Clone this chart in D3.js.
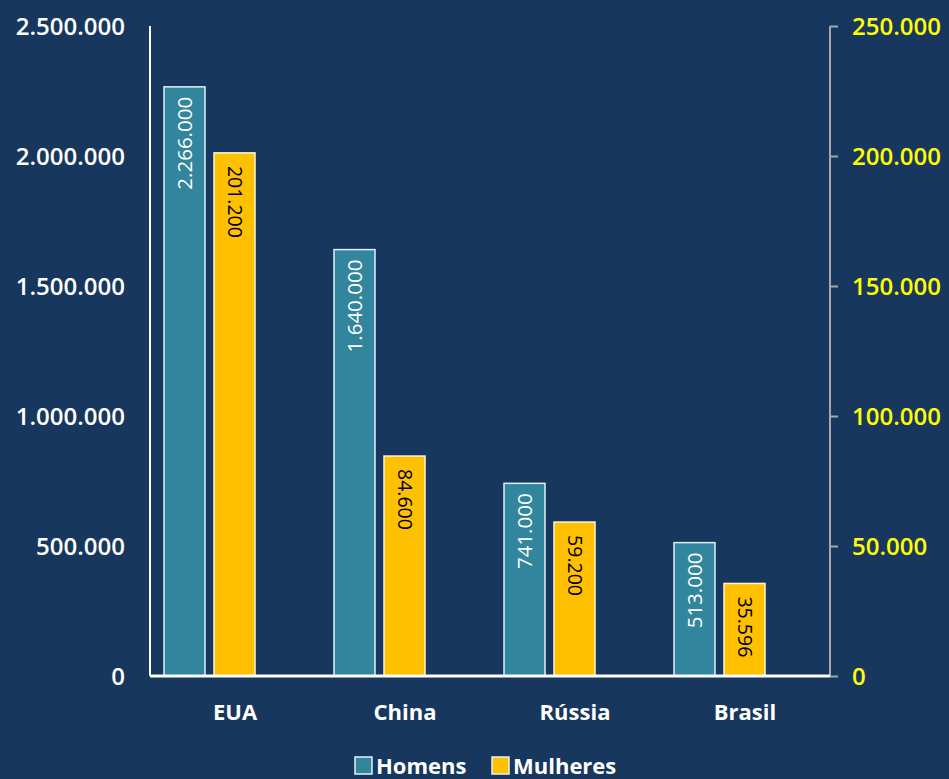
<!DOCTYPE html>
<html><head><meta charset="utf-8">
<script src="https://cdn.jsdelivr.net/npm/d3@7"></script>
<style>html,body{margin:0;padding:0;background:#17375e;}svg{display:block;}</style>
</head><body>
<svg id="c" width="949" height="779"></svg>
<script>
const categories = ["EUA", "China", "Rússia", "Brasil"];
const homens = [2266000, 1640000, 741000, 513000];
const mulheres = [201200, 84600, 59200, 35596];
const leftTicks = [0, 500000, 1000000, 1500000, 2000000, 2500000];
const rightTicks = [0, 50000, 100000, 150000, 200000, 250000];
const seriesNames = ["Homens", "Mulheres"];

const fmt = v => d3.format(",")(v).replace(/,/g, ".");
const fmtLabel = v => d3.format(",")(v).replace(/,/g, ".");
const FONT = "'Open Sans', 'DejaVu Sans', sans-serif";
const TEAL = "#31859c", GOLD = "#ffc000", BG = "#17375e";

const svg = d3.select("#c");
svg.append("rect").attr("width", 949).attr("height", 779).attr("fill", BG);

const L = 150, R = 830, T = 26, B = 676;
const x = d3.scaleBand().domain(categories).range([L, R]).padding(0);
const yL = d3.scaleLinear().domain([0, 2500000]).range([B, T]);
const yR = d3.scaleLinear().domain([0, 250000]).range([B, T]);

const bw = 41;
const offH = 14, offM = 64;

// Right axis (gray)
const gR = svg.append("g").attr("transform", `translate(${R},0)`)
  .call(d3.axisRight(yR).tickValues(rightTicks).tickSize(8).tickFormat(fmt));
gR.select(".domain").attr("stroke", "#a6a6a6").attr("stroke-width", 2).attr("d", `M0,${T}V${B}`);
gR.selectAll(".tick line").attr("stroke", "#a6a6a6").attr("stroke-width", 2);
gR.selectAll(".tick text").attr("x", 22).attr("fill", "#ffff00")
  .style("font-family", FONT).style("font-size", "24px").style("font-weight", "600")
  .attr("dy", "0.35em");

// Bars
const data = categories.map((c, i) => ({c, h: homens[i], m: mulheres[i]}));
const gb = svg.append("g");
gb.selectAll("rect.h").data(data).join("rect").attr("class", "h")
  .attr("x", d => x(d.c) + offH).attr("width", bw)
  .attr("y", d => yL(d.h)).attr("height", d => B - yL(d.h))
  .attr("fill", TEAL).attr("stroke", "#dff0f5").attr("stroke-width", 1.5);
gb.selectAll("rect.m").data(data).join("rect").attr("class", "m")
  .attr("x", d => x(d.c) + offM).attr("width", bw)
  .attr("y", d => yR(d.m)).attr("height", d => B - yR(d.m))
  .attr("fill", GOLD).attr("stroke", "#fff6d8").attr("stroke-width", 1.5);

// Bar labels
gb.selectAll("text.h").data(data).join("text").attr("class", "h")
  .attr("transform", d => `translate(${x(d.c) + offH + bw / 2},${yL(d.h) + 10}) rotate(-90)`)
  .attr("text-anchor", "end").attr("dy", "0.35em")
  .attr("fill", "#ffffff").style("font-family", FONT).style("font-size", "20.5px").style("font-weight", "500")
  .text(d => fmtLabel(d.h));
gb.selectAll("text.m").data(data).join("text").attr("class", "m")
  .attr("transform", d => `translate(${x(d.c) + offM + bw / 2},${yR(d.m) + 13}) rotate(90)`)
  .attr("text-anchor", "start").attr("dy", "0.35em")
  .attr("fill", "#000000").style("font-family", FONT).style("font-size", "19.5px").style("font-weight", "500")
  .text(d => fmtLabel(d.m));

// Left axis (white, no ticks)
const gL = svg.append("g").attr("transform", `translate(${L},0)`)
  .call(d3.axisLeft(yL).tickValues(leftTicks).tickSize(0).tickFormat(fmt));
gL.select(".domain").attr("stroke", "#ffffff").attr("stroke-width", 2).attr("d", `M0,${T}V${B}`);
gL.selectAll(".tick text").attr("x", -25).attr("fill", "#ffffff")
  .style("font-family", FONT).style("font-size", "24px").style("font-weight", "600")
  .attr("dy", "0.35em");

// Bottom axis
const gX = svg.append("g").attr("transform", `translate(0,${B})`)
  .call(d3.axisBottom(x).tickSize(0));
gX.select(".domain").attr("stroke", "#ffffff").attr("stroke-width", 3).attr("d", `M${L},0H${R}`);
gX.selectAll(".tick text").attr("y", 28).attr("fill", "#ffffff")
  .style("font-family", FONT).style("font-size", "22px").style("font-weight", "bold");

// Legend
const legend = [{n: seriesNames[0], c: TEAL, x: 355}, {n: seriesNames[1], c: GOLD, x: 492}];
const lg = svg.append("g");
lg.selectAll("rect").data(legend).join("rect")
  .attr("x", d => d.x).attr("y", 757).attr("width", 17).attr("height", 17)
  .attr("fill", d => d.c).attr("stroke", "#e6f2f5").attr("stroke-width", 1.5);
lg.selectAll("text").data(legend).join("text")
  .attr("x", d => d.x + 21).attr("y", 766).attr("dy", "0.35em")
  .attr("fill", "#ffffff").style("font-family", FONT).style("font-size", "22px").style("font-weight", "bold")
  .text(d => d.n);
</script>
</body></html>
